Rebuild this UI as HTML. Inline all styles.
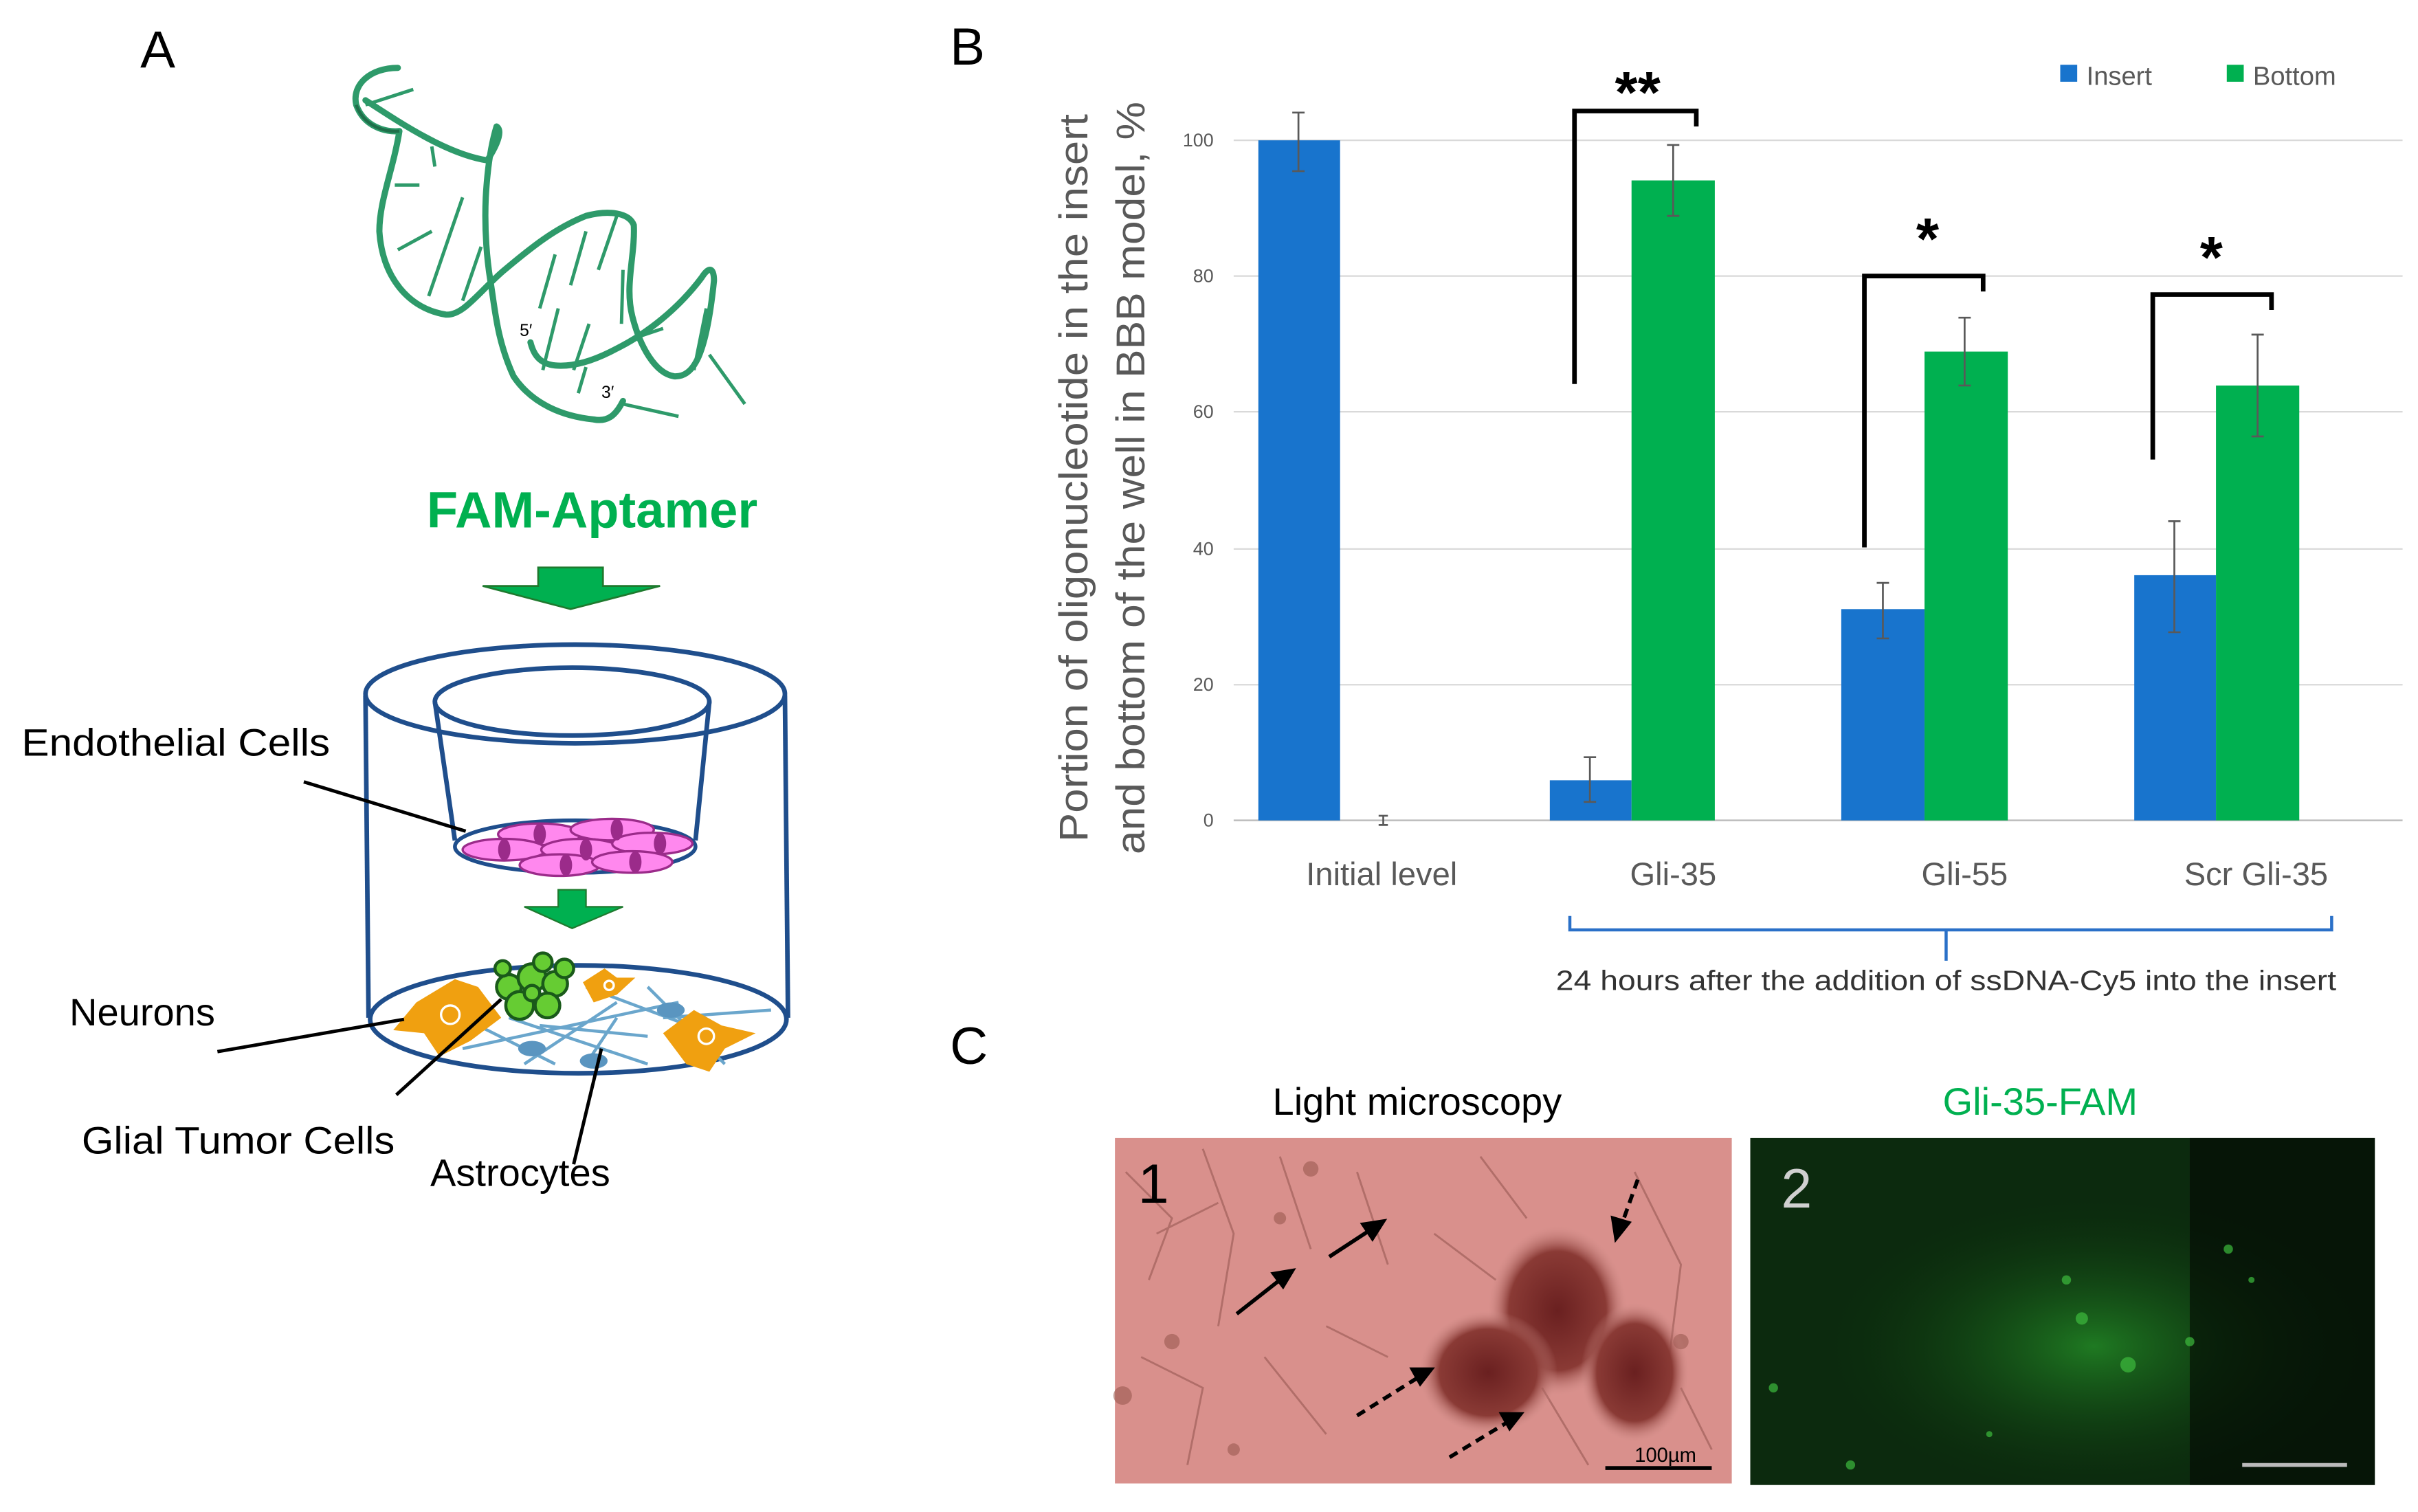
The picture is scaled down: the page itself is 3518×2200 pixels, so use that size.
<!DOCTYPE html>
<html><head><meta charset="utf-8"><style>
html,body{margin:0;padding:0;background:#fff}
svg{display:block}
text{font-family:"Liberation Sans","DejaVu Sans",sans-serif}
</style></head><body>
<svg width="3518" height="2200" viewBox="0 0 1568 980.5" preserveAspectRatio="none" xmlns="http://www.w3.org/2000/svg">
<defs>
<radialGradient id="glow" cx="0.55" cy="0.6" r="0.45"><stop offset="0" stop-color="#1f7a22"/><stop offset="1" stop-color="#0a2a0c" stop-opacity="0"/></radialGradient>
<radialGradient id="clump" cx="0.5" cy="0.5" r="0.5"><stop offset="0" stop-color="#6a2020"/><stop offset="0.7" stop-color="#8a3a35"/><stop offset="1" stop-color="#c98a85" stop-opacity="0"/></radialGradient>
</defs>
<rect width="1568" height="981" fill="#fff"/>
<text x="91" y="44" font-size="34">A</text>
<text x="616" y="42" font-size="34">B</text>
<text x="616" y="690" font-size="34">C</text>

<!-- Aptamer -->
<g stroke="#2e9a6a" stroke-width="2.2">
<line x1="237" y1="68" x2="268" y2="58"/><line x1="256" y1="120" x2="272" y2="120"/><line x1="258" y1="162" x2="280" y2="150"/>
<line x1="278" y1="192" x2="300" y2="128"/><line x1="300" y1="195" x2="312" y2="160"/><line x1="280" y1="95" x2="282" y2="108"/>
<line x1="350" y1="200" x2="360" y2="165"/><line x1="370" y1="185" x2="380" y2="150"/><line x1="388" y1="175" x2="400" y2="140"/>
<line x1="352" y1="240" x2="362" y2="200"/><line x1="372" y1="240" x2="382" y2="210"/><line x1="403" y1="210" x2="404" y2="175"/>
<line x1="415" y1="218" x2="430" y2="213"/><line x1="450" y1="240" x2="458" y2="200"/><line x1="460" y1="230" x2="483" y2="262"/>
<line x1="404" y1="262" x2="440" y2="270"/><line x1="375" y1="255" x2="380" y2="238"/>
</g>
<g fill="none" stroke="#2e9a6a" stroke-width="4" stroke-linecap="round" stroke-linejoin="round">
<path d="M258,44 C240,44 228,55 231,68 C236,82 250,86 259,85 C255,110 246,130 246,150 C248,180 265,200 289,204 C300,205 310,190 326,176 C345,160 360,148 380,140 C395,136 408,138 411,146 C412,165 405,185 410,205 C415,225 425,242 437,244 C450,245 458,230 463,182 C463,174 460,172 455,180 C440,200 420,216 400,226 C385,234 372,238 360,237 C350,236 346,230 344,222"/>
<path d="M237,65 C260,80 290,100 316,104 C325,90 325,84 322,82 C318,95 316,110 315,128 C314,150 316,170 318,182 C321,200 322,220 333,244 C345,262 365,270 385,272 C395,274 400,268 404,260"/>
</g>
<g fill="none" stroke="#1f6f4a" stroke-width="2"><path d="M231,68 C236,82 250,86 259,85"/></g>
<text x="337" y="218" font-size="11">5′</text>
<text x="390" y="258" font-size="11">3′</text>

<text x="384" y="342" font-size="33" font-weight="bold" fill="#00b050" text-anchor="middle">FAM-Aptamer</text>
<polygon points="349,368 391,368 391,380 428,380 370,395 313,380 349,380" fill="#00b050" stroke="#1e7a2e" stroke-width="1.2"/>

<!-- Cylinder -->
<g fill="none" stroke="#1f4e8c" stroke-width="3">
<ellipse cx="373" cy="450" rx="136" ry="32"/>
<line x1="237" y1="451" x2="239" y2="660"/><line x1="509" y1="451" x2="511" y2="660"/>
<ellipse cx="371" cy="455" rx="89" ry="22"/>
<line x1="282" y1="455" x2="295" y2="545"/><line x1="460" y1="455" x2="451" y2="545"/>
</g>
<ellipse cx="373" cy="549" rx="78" ry="17" fill="#fff" stroke="#1f4e8c" stroke-width="2.5"/>
<g fill="#ff88ee" stroke="#9b2b8a" stroke-width="1.5">
<ellipse cx="350" cy="541" rx="27" ry="7"/><ellipse cx="397" cy="538" rx="27" ry="7"/>
<ellipse cx="327" cy="551" rx="27" ry="7"/><ellipse cx="377" cy="551" rx="26" ry="7"/><ellipse cx="423" cy="547" rx="26" ry="7"/>
<ellipse cx="363" cy="561" rx="26" ry="7"/><ellipse cx="410" cy="559" rx="26" ry="7"/>
</g>
<g fill="#9b2b8a"><ellipse cx="350" cy="541" rx="4" ry="7"/><ellipse cx="400" cy="538" rx="4" ry="7"/><ellipse cx="327" cy="551" rx="4" ry="7"/><ellipse cx="380" cy="551" rx="4" ry="7"/><ellipse cx="428" cy="547" rx="4" ry="7"/><ellipse cx="367" cy="561" rx="4" ry="7"/><ellipse cx="412" cy="559" rx="4" ry="7"/></g>
<polygon points="362,577 380,577 380,588 404,588 371,602 340,588 362,588" fill="#00b050" stroke="#1e7a2e" stroke-width="1"/>
<ellipse cx="375" cy="661" rx="135" ry="35" fill="#fff" stroke="#1f4e8c" stroke-width="3"/>
<g stroke="#6aa6cc" stroke-width="2" fill="none">
<path d="M300,680 L440,650 M330,660 L420,690 M380,640 L460,670 M420,640 L470,690 M340,690 L400,650 M430,660 L500,655 M310,665 L360,690 M350,665 L420,672 M400,660 L380,690"/>
</g>
<g fill="#5a95c0"><ellipse cx="345" cy="680" rx="9" ry="5"/><ellipse cx="385" cy="688" rx="9" ry="5"/><ellipse cx="435" cy="655" rx="9" ry="5"/></g>
<g fill="#f0a010">
<polygon points="270,650 295,635 310,640 325,660 305,675 285,685 275,670 255,668"/>
<polygon points="378,637 392,628 400,634 412,634 400,645 385,650"/>
<polygon points="430,670 450,655 468,665 490,670 470,680 460,695 445,690"/>
</g>
<g fill="none" stroke="#fff" stroke-width="1.5"><circle cx="292" cy="658" r="6"/><circle cx="395" cy="639" r="3"/><circle cx="458" cy="672" r="5"/></g>
<g fill="#66cc33" stroke="#1a5a1a" stroke-width="2">
<circle cx="330" cy="640" r="8"/><circle cx="345" cy="634" r="9"/><circle cx="360" cy="638" r="8"/><circle cx="337" cy="652" r="9"/><circle cx="355" cy="652" r="8"/><circle cx="326" cy="628" r="5"/><circle cx="352" cy="624" r="6"/><circle cx="366" cy="628" r="6"/><circle cx="345" cy="644" r="5"/>
</g>

<g stroke="#000" stroke-width="2.2">
<line x1="197" y1="507" x2="302" y2="539"/>
<line x1="141" y1="682" x2="262" y2="661"/>
<line x1="257" y1="710" x2="325" y2="648"/>
<line x1="372" y1="755" x2="390" y2="680"/>
</g>
<g font-size="25">
<text x="14" y="490" textLength="200" lengthAdjust="spacingAndGlyphs">Endothelial Cells</text>
<text x="45" y="665">Neurons</text>
<text x="53" y="748" textLength="203" lengthAdjust="spacingAndGlyphs">Glial Tumor Cells</text>
<text x="279" y="769">Astrocytes</text>
</g>

<!-- Chart -->
<g stroke="#d9d9d9" stroke-width="1">
<line x1="800" y1="91" x2="1558" y2="91"/><line x1="800" y1="179" x2="1558" y2="179"/><line x1="800" y1="267" x2="1558" y2="267"/><line x1="800" y1="356" x2="1558" y2="356"/><line x1="800" y1="444" x2="1558" y2="444"/>
</g>
<line x1="800" y1="532" x2="1558" y2="532" stroke="#bfbfbf" stroke-width="1.2"/>
<g font-size="12" fill="#595959" text-anchor="end">
<text x="787" y="95">100</text><text x="787" y="183">80</text><text x="787" y="271">60</text><text x="787" y="360">40</text><text x="787" y="448">20</text><text x="787" y="536">0</text>
</g>
<text transform="translate(705,310) rotate(-90)" font-size="26" fill="#595959" text-anchor="middle" textLength="472" lengthAdjust="spacingAndGlyphs">Portion of oligonucleotide in the insert</text>
<text transform="translate(742,310) rotate(-90)" font-size="26" fill="#595959" text-anchor="middle" textLength="488" lengthAdjust="spacingAndGlyphs">and bottom of the well in BBB model, %</text>
<g fill="#1874cd">
<rect x="816" y="91" width="53" height="441"/><rect x="1005" y="506" width="53" height="26"/><rect x="1194" y="395" width="54" height="137"/><rect x="1384" y="373" width="53" height="159"/>
</g>
<g fill="#00b050">
<rect x="1058" y="117" width="54" height="415"/><rect x="1248" y="228" width="54" height="304"/><rect x="1437" y="250" width="54" height="282"/>
</g>
<g stroke="#595959" stroke-width="1.2">
<path d="M842,73 V111 M838,73 H846 M838,111 H846"/>
<path d="M897,529 V535 M894,529 H900 M894,535 H900"/>
<path d="M1031,491 V520 M1027,491 H1035 M1027,520 H1035"/>
<path d="M1085,94 V140 M1081,94 H1089 M1081,140 H1089"/>
<path d="M1221,378 V414 M1217,378 H1225 M1217,414 H1225"/>
<path d="M1274,206 V250 M1270,206 H1278 M1270,250 H1278"/>
<path d="M1410,338 V410 M1406,338 H1414 M1406,410 H1414"/>
<path d="M1464,217 V283 M1460,217 H1468 M1460,283 H1468"/>
</g>
<g font-size="21" fill="#595959" text-anchor="middle">
<text x="896" y="574">Initial level</text><text x="1085" y="574">Gli-35</text><text x="1274" y="574">Gli-55</text><text x="1463" y="574">Scr Gli-35</text>
</g>
<rect x="1336" y="42" width="11" height="11" fill="#1874cd"/><text x="1353" y="55" font-size="17" fill="#595959">Insert</text>
<rect x="1444" y="42" width="11" height="11" fill="#00b050"/><text x="1461" y="55" font-size="17" fill="#595959">Bottom</text>
<g fill="none" stroke="#000" stroke-width="3">
<path d="M1021,249 V72 H1100 V82"/>
<path d="M1209,355 V179 H1286 V189"/>
<path d="M1396,298 V191 H1473 V201"/>
</g>
<g font-size="38" font-weight="bold" text-anchor="middle">
<text x="1062" y="73">**</text><text x="1250" y="168">*</text><text x="1434" y="180">*</text>
</g>
<path d="M1018,594 V603 H1512 V594 M1262,603 V623" fill="none" stroke="#2a70c8" stroke-width="2"/>
<text x="1262" y="642" font-size="18" fill="#333" text-anchor="middle" textLength="506" lengthAdjust="spacingAndGlyphs">24 hours after the addition of ssDNA-Cy5 into the insert</text>

<!-- Panel C -->
<text x="919" y="723" font-size="25" text-anchor="middle">Light microscopy</text>
<text x="1323" y="723" font-size="25" fill="#00b050" text-anchor="middle">Gli-35-FAM</text>
<rect x="723" y="738" width="400" height="224" fill="#d9908c"/>
<g stroke="#a0605a" stroke-width="1.3" fill="none" opacity="0.7">
<path d="M730,760 L760,790 L745,830 M780,745 L800,800 L790,860 M830,750 L850,810 M740,880 L780,900 L770,950 M880,760 L900,820 M960,750 L990,790 M1060,760 L1090,820 L1080,900 M820,880 L860,930 M1000,900 L1030,950 M1090,900 L1110,940 M750,800 L790,780 M860,860 L900,880 M930,800 L970,830"/>
</g>
<g fill="#9a5a50" opacity="0.6"><circle cx="850" cy="758" r="5"/><circle cx="830" cy="790" r="4"/><circle cx="760" cy="870" r="5"/><circle cx="728" cy="905" r="6"/><circle cx="1090" cy="870" r="5"/><circle cx="800" cy="940" r="4"/></g>
<ellipse cx="1010" cy="850" rx="45" ry="55" fill="url(#clump)"/>
<ellipse cx="965" cy="890" rx="45" ry="40" fill="url(#clump)"/>
<ellipse cx="1060" cy="890" rx="35" ry="45" fill="url(#clump)"/>
<text x="738" y="780" font-size="36">1</text>
<g stroke="#000" stroke-width="2.5" fill="#000">
<line x1="802" y1="852" x2="830" y2="830"/><polygon points="838,824 826,826 832,834"/>
<line x1="862" y1="815" x2="888" y2="798"/><polygon points="897,792 884,794 890,803"/>
<line x1="1062" y1="765" x2="1052" y2="793" stroke-dasharray="6,4"/><polygon points="1048,803 1046,790 1056,793"/>
<line x1="880" y1="918" x2="920" y2="893" stroke-dasharray="6,4"/><polygon points="928,888 916,888 921,897"/>
<line x1="940" y1="945" x2="978" y2="922" stroke-dasharray="6,4"/><polygon points="986,917 974,917 979,926"/>
</g>
<line x1="1041" y1="952" x2="1110" y2="952" stroke="#000" stroke-width="2.5"/>
<text x="1080" y="948" font-size="13" text-anchor="middle">100µm</text>
<rect x="1135" y="738" width="405" height="225" fill="#0c2a0e"/>
<rect x="1135" y="738" width="405" height="225" fill="url(#glow)"/>
<rect x="1420" y="738" width="120" height="225" fill="#030803" opacity="0.6"/>
<g fill="#3dbb3d" opacity="0.7"><circle cx="1350" cy="855" r="4"/><circle cx="1380" cy="885" r="5"/><circle cx="1420" cy="870" r="3"/><circle cx="1340" cy="830" r="3"/><circle cx="1445" cy="810" r="3"/><circle cx="1460" cy="830" r="2"/><circle cx="1200" cy="950" r="3"/><circle cx="1290" cy="930" r="2"/><circle cx="1150" cy="900" r="3"/></g>
<text x="1155" y="783" font-size="36" fill="#d0d0d0">2</text>
<line x1="1454" y1="950" x2="1522" y2="950" stroke="#bbb" stroke-width="2.5"/>
</svg>
</body></html>
